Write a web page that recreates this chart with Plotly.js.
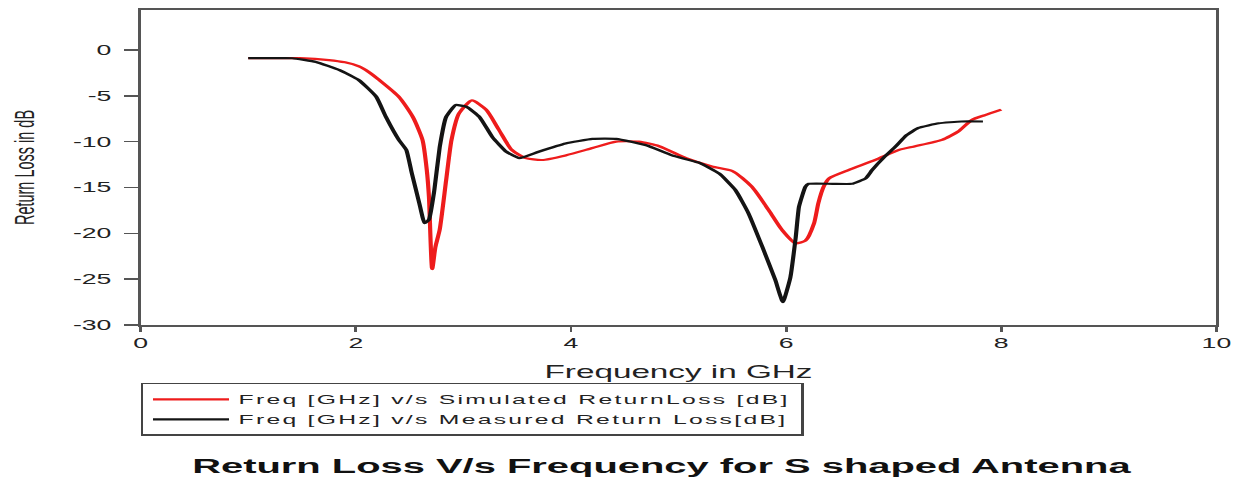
<!DOCTYPE html>
<html>
<head>
<meta charset="utf-8">
<script src="https://cdn.plot.ly/plotly-3.0.1.min.js"></script>
<style>
  html, body { margin: 0; padding: 0; background: #fff; overflow: hidden; }
  #wrap { width: 1243px; height: 477px; overflow: hidden; }
  #plot { width: 654px; height: 477px; transform: scaleX(1.9006); transform-origin: 0 0; }
  .legendtext { letter-spacing: 1.2px; }
</style>
</head>
<body>
<div id="wrap"><div id="plot"></div></div>
<script>
// ---- data ----
const simFreq = [1.0, 1.48, 1.75, 1.9, 2.03, 2.12, 2.22, 2.40, 2.53, 2.62, 2.66, 2.68, 2.71, 2.74, 2.78, 2.84, 2.89, 2.96, 3.08, 3.21, 3.33, 3.45, 3.58, 3.73, 3.95, 4.2, 4.42, 4.63, 4.82, 5.07, 5.31, 5.50, 5.68, 5.84, 5.96, 6.09, 6.18, 6.26, 6.30, 6.35, 6.40, 6.58, 6.83, 7.05, 7.2, 7.45, 7.6, 7.73, 7.85, 8.0];
const simRL   = [-0.9, -0.9, -1.1, -1.35, -1.8, -2.4, -3.3, -5.1, -7.3, -9.8, -13.1, -16.0, -23.9, -21.5, -19.6, -14.2, -9.8, -6.9, -5.5, -6.5, -8.7, -10.9, -11.8, -12.0, -11.5, -10.7, -10.0, -10.0, -10.5, -11.8, -12.7, -13.2, -14.9, -17.5, -19.6, -21.1, -20.8, -18.9, -16.7, -14.9, -14.0, -13.1, -12.0, -10.9, -10.5, -9.8, -8.9, -7.6, -7.1, -6.5];

const measFreq = [1.0, 1.2, 1.41, 1.63, 1.85, 2.03, 2.19, 2.28, 2.40, 2.47, 2.52, 2.59, 2.64, 2.68, 2.73, 2.78, 2.84, 2.93, 3.03, 3.15, 3.27, 3.40, 3.52, 3.70, 3.95, 4.2, 4.42, 4.70, 4.94, 5.19, 5.38, 5.53, 5.65, 5.78, 5.90, 5.97, 6.04, 6.09, 6.12, 6.18, 6.21, 6.43, 6.61, 6.74, 6.80, 6.92, 7.02, 7.12, 7.23, 7.42, 7.63, 7.83];
const measRL   = [-0.9, -0.9, -0.9, -1.3, -2.2, -3.3, -5.1, -7.3, -9.8, -10.9, -13.4, -16.7, -18.9, -18.5, -15.3, -10.6, -7.3, -6.0, -6.2, -7.3, -9.5, -11.1, -11.8, -11.1, -10.2, -9.7, -9.7, -10.4, -11.5, -12.3, -13.5, -15.3, -17.8, -21.5, -25.1, -27.5, -24.8, -20.4, -17.1, -14.9, -14.6, -14.6, -14.6, -14.0, -13.1, -11.6, -10.5, -9.3, -8.5, -8.0, -7.8, -7.8];

const xTickVals = [0, 2, 4, 6, 8, 10];
const xTickText = ['0', '2', '4', '6', '8', '10'];
const yTickVals = [0, -5, -10, -15, -20, -25, -30];
const yTickText = ['0', '-5', '-10', '-15', '-20', '-25', '-30'];

const simName  = 'Freq [GHz] v/s Simulated ReturnLoss [dB]';
const measName = 'Freq [GHz] v/s Measured Return Loss[dB]';
const chartTitle = 'Return Loss V/s Frequency for S shaped Antenna';
const xTitle = 'Frequency in GHz';
const yTitle = 'Return Loss in dB';

const FONT = 'Liberation Sans, Arial, sans-serif';

const traces = [
  { x: simFreq, y: simRL, type: 'scatter', mode: 'lines', name: simName,
    line: { color: '#ee1c1c', width: 2.2, shape: 'spline', smoothing: 0.6 } },
  { x: measFreq, y: measRL, type: 'scatter', mode: 'lines', name: measName,
    line: { color: '#141414', width: 2.2, shape: 'spline', smoothing: 0.4 } }
];

const layout = {
  width: 654, height: 477,
  margin: { l: 74, r: 14, t: 10, b: 152, pad: 0 },
  paper_bgcolor: '#fff', plot_bgcolor: '#fff',
  font: { family: FONT, color: '#222' },
  showlegend: true,
  xaxis: {
    range: [0, 10], tickvals: xTickVals, ticktext: xTickText,
    ticks: 'outside', ticklen: 5, tickwidth: 1.5, tickcolor: '#555',
    showline: true, linecolor: '#555', linewidth: 1.6, mirror: true,
    showgrid: false, zeroline: false, fixedrange: true,
    tickfont: { size: 14, family: FONT, color: '#222' },
    title: { text: xTitle, font: { size: 17.5, family: FONT, color: '#222' }, standoff: 15 }
  },
  yaxis: {
    range: [-30, 4.36], tickvals: yTickVals, ticktext: yTickText,
    ticks: 'outside', ticklen: 7, tickwidth: 1.5, tickcolor: '#555',
    showline: true, linecolor: '#555', linewidth: 1.6, mirror: true,
    showgrid: false, zeroline: false, fixedrange: true,
    ticklabelstandoff: 4,
    tickfont: { size: 14, family: FONT, color: '#222' },
    title: { text: yTitle, font: { size: 14.5, family: FONT, color: '#222' }, standoff: 16 }
  },
  legend: {
    x: 0, xanchor: 'left', y: -0.184, yanchor: 'top',
    bordercolor: '#444', borderwidth: 1.5, bgcolor: '#fff',
    font: { size: 13, family: FONT, color: '#222' },
    itemwidth: 40, tracegroupgap: 0
  },
  annotations: [{
    xref: 'paper', yref: 'paper', x: 0.4844, y: -0.4476,
    xanchor: 'center', yanchor: 'middle', showarrow: false,
    text: '<b>' + chartTitle + '</b>',
    font: { size: 21, family: FONT, color: '#111' }
  }]
};

Plotly.newPlot('plot', traces, layout, { displayModeBar: false, staticPlot: true });
</script>
</body>
</html>
